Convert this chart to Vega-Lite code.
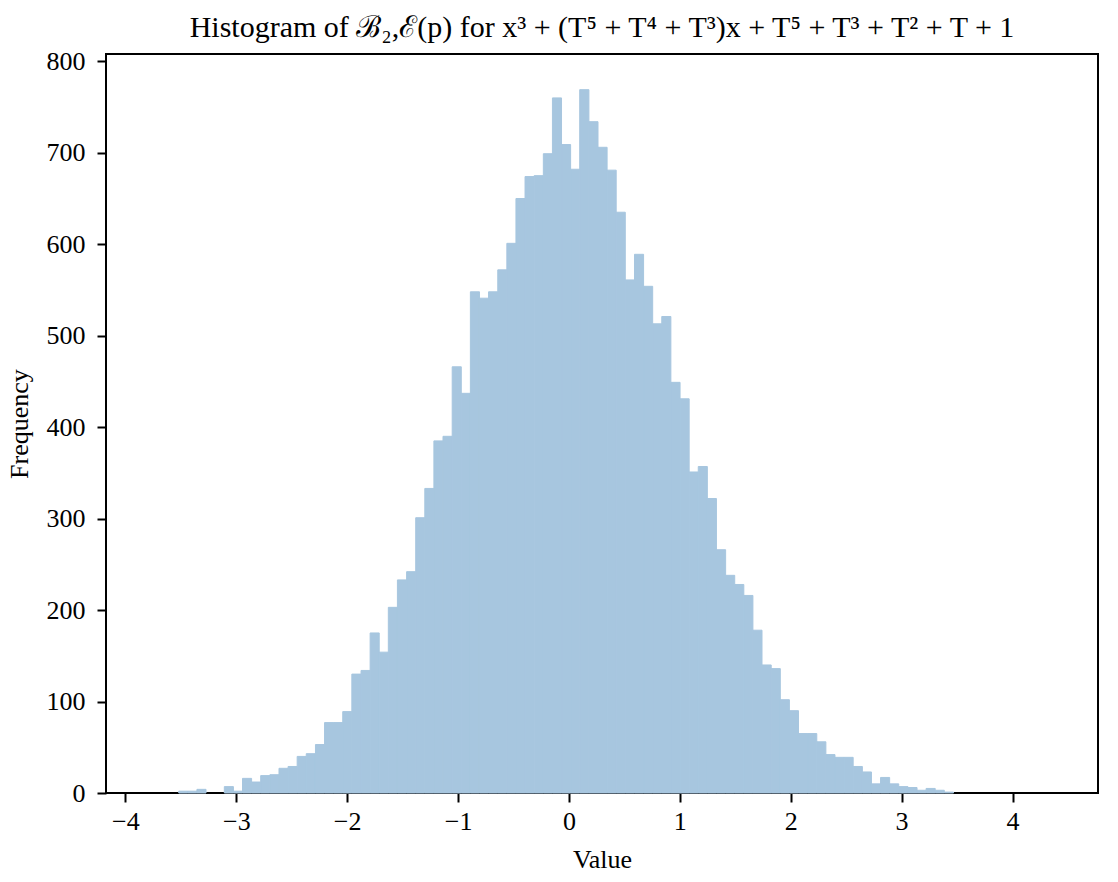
{
  "$schema": "https://vega.github.io/schema/vega-lite/v6.json",
  "width": 992,
  "height": 739,
  "autosize": {"type": "none"},
  "padding": {"left": 106, "top": 54, "right": 20, "bottom": 89},
  "background": "white",
  "config": {
    "view": {"stroke": "black", "strokeWidth": 2},
    "font": "Liberation Serif, DejaVu Serif, serif"
  },
  "title": {
    "text": "Histogram of ℬ₂,ℰ(p) for x³ + (T⁵ + T⁴ + T³)x + T⁵ + T³ + T² + T + 1",
    "fontSize": 30,
    "fontWeight": "normal",
    "font": "Liberation Serif, DejaVu Serif, serif",
    "color": "black",
    "anchor": "middle",
    "offset": 5
  },
  "data": {
    "values": [
      {"x0": -3.519, "x1": -3.437, "n": 2},
      {"x0": -3.437, "x1": -3.355, "n": 2},
      {"x0": -3.355, "x1": -3.273, "n": 4},
      {"x0": -3.108, "x1": -3.026, "n": 7},
      {"x0": -3.026, "x1": -2.944, "n": 2},
      {"x0": -2.944, "x1": -2.862, "n": 16},
      {"x0": -2.862, "x1": -2.780, "n": 12},
      {"x0": -2.780, "x1": -2.697, "n": 19},
      {"x0": -2.697, "x1": -2.615, "n": 20},
      {"x0": -2.615, "x1": -2.533, "n": 27},
      {"x0": -2.533, "x1": -2.451, "n": 29},
      {"x0": -2.451, "x1": -2.369, "n": 40},
      {"x0": -2.369, "x1": -2.286, "n": 43},
      {"x0": -2.286, "x1": -2.204, "n": 53},
      {"x0": -2.204, "x1": -2.122, "n": 77},
      {"x0": -2.122, "x1": -2.040, "n": 77},
      {"x0": -2.040, "x1": -1.958, "n": 89},
      {"x0": -1.958, "x1": -1.875, "n": 130},
      {"x0": -1.875, "x1": -1.793, "n": 134},
      {"x0": -1.793, "x1": -1.711, "n": 175},
      {"x0": -1.711, "x1": -1.629, "n": 154},
      {"x0": -1.629, "x1": -1.547, "n": 203},
      {"x0": -1.547, "x1": -1.464, "n": 233},
      {"x0": -1.464, "x1": -1.382, "n": 242},
      {"x0": -1.382, "x1": -1.300, "n": 301},
      {"x0": -1.300, "x1": -1.218, "n": 333},
      {"x0": -1.218, "x1": -1.136, "n": 385},
      {"x0": -1.136, "x1": -1.053, "n": 390},
      {"x0": -1.053, "x1": -0.971, "n": 466},
      {"x0": -0.971, "x1": -0.889, "n": 437},
      {"x0": -0.889, "x1": -0.807, "n": 548},
      {"x0": -0.807, "x1": -0.725, "n": 541},
      {"x0": -0.725, "x1": -0.642, "n": 548},
      {"x0": -0.642, "x1": -0.560, "n": 572},
      {"x0": -0.560, "x1": -0.478, "n": 601},
      {"x0": -0.478, "x1": -0.396, "n": 650},
      {"x0": -0.396, "x1": -0.314, "n": 674},
      {"x0": -0.314, "x1": -0.231, "n": 675},
      {"x0": -0.231, "x1": -0.149, "n": 699},
      {"x0": -0.149, "x1": -0.067, "n": 760},
      {"x0": -0.067, "x1": 0.015, "n": 709},
      {"x0": 0.015, "x1": 0.097, "n": 682},
      {"x0": 0.097, "x1": 0.180, "n": 769},
      {"x0": 0.180, "x1": 0.262, "n": 734},
      {"x0": 0.262, "x1": 0.344, "n": 706},
      {"x0": 0.344, "x1": 0.426, "n": 681},
      {"x0": 0.426, "x1": 0.508, "n": 635},
      {"x0": 0.508, "x1": 0.591, "n": 561},
      {"x0": 0.591, "x1": 0.673, "n": 589},
      {"x0": 0.673, "x1": 0.755, "n": 554},
      {"x0": 0.755, "x1": 0.837, "n": 513},
      {"x0": 0.837, "x1": 0.919, "n": 521},
      {"x0": 0.919, "x1": 1.002, "n": 449},
      {"x0": 1.002, "x1": 1.084, "n": 431},
      {"x0": 1.084, "x1": 1.166, "n": 351},
      {"x0": 1.166, "x1": 1.248, "n": 357},
      {"x0": 1.248, "x1": 1.330, "n": 322},
      {"x0": 1.330, "x1": 1.413, "n": 266},
      {"x0": 1.413, "x1": 1.495, "n": 238},
      {"x0": 1.495, "x1": 1.577, "n": 228},
      {"x0": 1.577, "x1": 1.659, "n": 216},
      {"x0": 1.659, "x1": 1.741, "n": 178},
      {"x0": 1.741, "x1": 1.824, "n": 140},
      {"x0": 1.824, "x1": 1.906, "n": 136},
      {"x0": 1.906, "x1": 1.988, "n": 102},
      {"x0": 1.988, "x1": 2.070, "n": 90},
      {"x0": 2.070, "x1": 2.152, "n": 65},
      {"x0": 2.152, "x1": 2.235, "n": 65},
      {"x0": 2.235, "x1": 2.317, "n": 56},
      {"x0": 2.317, "x1": 2.399, "n": 42},
      {"x0": 2.399, "x1": 2.481, "n": 39},
      {"x0": 2.481, "x1": 2.563, "n": 39},
      {"x0": 2.563, "x1": 2.646, "n": 29},
      {"x0": 2.646, "x1": 2.728, "n": 23},
      {"x0": 2.728, "x1": 2.810, "n": 10},
      {"x0": 2.810, "x1": 2.892, "n": 17},
      {"x0": 2.892, "x1": 2.974, "n": 10},
      {"x0": 2.974, "x1": 3.057, "n": 7},
      {"x0": 3.057, "x1": 3.139, "n": 6},
      {"x0": 3.139, "x1": 3.221, "n": 3},
      {"x0": 3.221, "x1": 3.303, "n": 5},
      {"x0": 3.303, "x1": 3.385, "n": 3},
      {"x0": 3.385, "x1": 3.468, "n": 1}
    ]
  },
  "mark": {"type": "rect", "color": "#a7c6df", "stroke": "#a7c6df", "strokeWidth": 1, "opacity": 1},
  "encoding": {
    "x": {
      "field": "x0",
      "type": "quantitative",
      "scale": {"domain": [-4.175, 4.771], "nice": false, "zero": false},
      "axis": {
        "title": "Value",
        "values": [-4, -3, -2, -1, 0, 1, 2, 3, 4],
        "format": "d",
        "grid": false,
        "domain": false,
        "tickColor": "black",
        "tickWidth": 2,
        "tickSize": 9,
        "labelFontSize": 26,
        "labelColor": "black",
        "labelPadding": 6,
        "titleFontSize": 26,
        "titleFontWeight": "normal",
        "titleColor": "black",
        "titlePadding": 12
      }
    },
    "x2": {"field": "x1"},
    "y": {
      "field": "n",
      "type": "quantitative",
      "scale": {"domain": [0, 808], "nice": false},
      "axis": {
        "title": "Frequency",
        "values": [0, 100, 200, 300, 400, 500, 600, 700, 800],
        "grid": false,
        "domain": false,
        "tickColor": "black",
        "tickWidth": 2,
        "tickSize": 9,
        "labelFontSize": 26,
        "labelColor": "black",
        "labelPadding": 12,
        "titleFontSize": 26,
        "titleFontWeight": "normal",
        "titleColor": "black",
        "titlePadding": 14
      }
    },
    "y2": {"datum": 0}
  }
}
